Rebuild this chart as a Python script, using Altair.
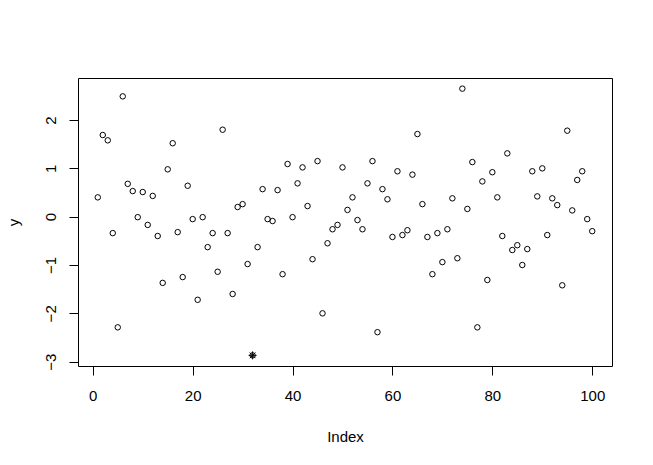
import altair as alt
import pandas as pd

# Values (index 1..100)
y_values = [
    0.40, 1.69, 1.58, -0.34, -2.29, 2.49, 0.68, 0.53, -0.01, 0.51,
    -0.17, 0.43, -0.40, -1.37, 0.98, 1.52, -0.32, -1.25, 0.64, -0.05,
    -1.72, -0.01, -0.63, -0.34, -1.14, 1.80, -0.34, -1.60, 0.20, 0.26,
    -0.98, -2.87, -0.63, 0.57, -0.05, -0.09, 0.55, -1.19, 1.09, -0.01,
    0.69, 1.02, 0.22, -0.88, 1.15, -2.00, -0.55, -0.26, -0.17, 1.02,
    0.14, 0.40, -0.07, -0.26, 0.69, 1.15, -2.39, 0.57, 0.36, -0.42,
    0.94, -0.38, -0.28, 0.87, 1.71, 0.26, -0.42, -1.19, -0.34, -0.94,
    -0.26, 0.38, -0.86, 2.65, 0.16, 1.13, -2.29, 0.73, -1.31, 0.92,
    0.40, -0.40, 1.31, -0.69, -0.59, -1.00, -0.67, 0.94, 0.42, 1.00,
    -0.38, 0.38, 0.24, -1.42, 1.78, 0.13, 0.76, 0.94, -0.05, -0.30,
]
index_values = list(range(1, len(y_values) + 1))
highlight_index = [32]

x_ticks = [0, 20, 40, 60, 80, 100]
y_ticks = [-3, -2, -1, 0, 1, 2]

df = pd.DataFrame({"Index": index_values, "y": y_values})
hl = df[df["Index"].isin(highlight_index)]

FONT = "Liberation Sans"

x_enc = alt.X(
    "Index:Q",
    scale=alt.Scale(domain=[-2.96, 103.96], nice=False, zero=False),
    axis=alt.Axis(
        values=x_ticks, title="Index", grid=False, domain=False,
        tickSize=9, tickColor="black", labelPadding=25,
        labelBaseline="alphabetic", labelFont=FONT, labelFontSize=15,
        labelColor="black", titleFont=FONT, titleFontSize=15,
        titleFontWeight=400, titleColor="black",
        titleBaseline="alphabetic", titleX=267, titleY=75,
        labelFlush=False, labelOverlap=False,
    ),
)
y_enc = alt.Y(
    "y:Q",
    scale=alt.Scale(domain=[-3.09, 2.87], nice=False, zero=False),
    axis=alt.Axis(
        values=y_ticks, title="y", grid=False, domain=False,
        tickSize=9, tickColor="black", labelPadding=14, labelAngle=270,
        labelAlign="center", labelBaseline="alphabetic",
        labelFont=FONT, labelFontSize=15, labelColor="black",
        titleFont=FONT, titleFontSize=15, titleFontWeight=400,
        titleColor="black", titleAngle=270, titleBaseline="alphabetic",
        titleX=-60, titleY=144, labelFlush=False, labelOverlap=False,
    ),
)

points = alt.Chart(df).mark_point(
    shape="circle", filled=False, stroke="black", strokeWidth=1, size=30, opacity=1
).encode(x=x_enc, y=y_enc)

star = alt.Chart(hl).mark_point(
    shape="M-1,0L1,0M0,-1L0,1M-0.7,-0.7L0.7,0.7M-0.7,0.7L0.7,-0.7",
    filled=False, stroke="black", strokeWidth=1, size=64, opacity=1
).encode(x="Index:Q", y="y:Q")

chart = (
    alt.layer(points, star)
    .properties(
        width=534, height=288,
        autosize=alt.AutoSizeParams(type="none"),
        padding={"left": 70, "top": 70, "right": 25, "bottom": 90},
        background="white",
    )
    .configure_view(stroke="black", strokeWidth=1)
)

chart.save("out.html", embed_options={"renderer": "svg", "actions": False})
